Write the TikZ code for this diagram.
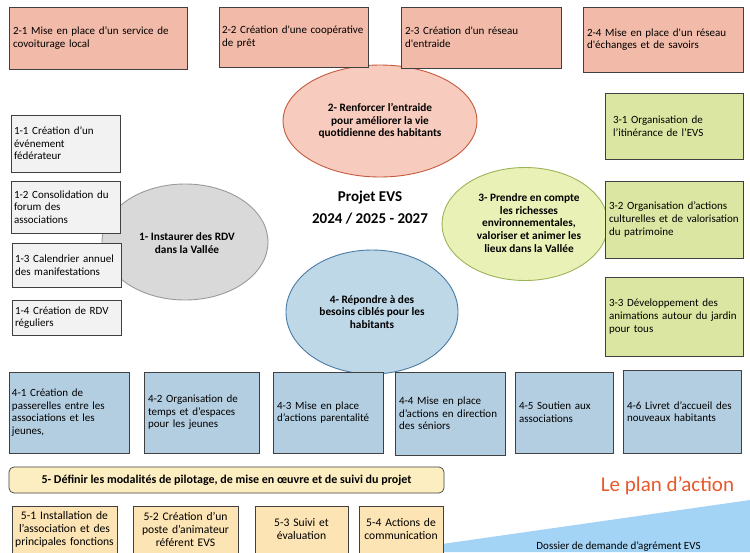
\documentclass[tikz,border=0pt]{standalone}
\usepackage{fontspec}
\setmainfont{Carlito}[Ligatures=TeXOff]
\usetikzlibrary{shapes.geometric}
\definecolor{salmonbox}{HTML}{F2BAA8}
\definecolor{salmonell}{HTML}{F7CBBD}
\definecolor{salmonline}{HTML}{C55A3C}
\definecolor{greybox}{HTML}{F2F2F2}
\definecolor{greyell}{HTML}{D9D9D9}
\definecolor{greyline}{HTML}{9A9A9A}
\definecolor{greenbox}{HTML}{DBE6A2}
\definecolor{greenell}{HTML}{EAF1B6}
\definecolor{greenline}{HTML}{9BB459}
\definecolor{bluebox}{HTML}{B4CEE1}
\definecolor{blueell}{HTML}{BFD8E8}
\definecolor{blueline}{HTML}{4A7CA6}
\definecolor{headfill}{HTML}{FDEEC2}
\definecolor{fivebox}{HTML}{FCE4B4}
\definecolor{tri}{HTML}{A3D3F5}
\definecolor{titleorange}{HTML}{E8592B}
\begin{document}
\begin{tikzpicture}[x=1pt,y=-1pt,
  txt/.style={font=\fontsize{11}{12.6}\selectfont},
  box/.style={txt, draw=black!75, line width=0.7pt, inner xsep=4pt, inner ysep=2pt, align=left, rectangle},
  ell/.style={ellipse, line width=0.9pt, inner sep=0pt},
  elltext/.style={align=center, inner sep=0pt, font=\fontsize{11.3}{12.7}\selectfont\bfseries},
  sbox/.style={box, fill=salmonbox},
  gbox/.style={box, fill=greybox},
  vbox/.style={box, fill=greenbox},
  bbox/.style={box, fill=bluebox},
  fbox/.style={box, fill=fivebox, align=center, inner xsep=1pt, font=\fontsize{11.6}{13}\selectfont},
]
\useasboundingbox (0,0) rectangle (750,552);
\clip (0,0) rectangle (750,552);
\fill[white] (0,0) rectangle (750,552);

% background triangle
\fill[tri] (386,552) -- (750,500) -- (750,552) -- cycle;
\node[txt, anchor=base] (dossier) at (618.5,549.5) {Dossier de demande d’agrément EVS};

% ellipses
\node[ell, draw=greyline, fill=greyell, minimum width=166pt, minimum height=116pt] (e1) at (185,242) {};
\node[elltext] (e1t) at (187,243) {1- Instaurer des RDV\\dans la Vallée};
\node[ell, draw=salmonline, fill=salmonell, minimum width=194pt, minimum height=112pt] (e2) at (380,121) {};
\node[elltext] (e2t) at (380,121) {2- Renforcer l’entraide\\pour améliorer la vie\\quotidienne des habitants};
\node[ell, draw=greenline, fill=greenell, minimum width=166pt, minimum height=113pt] (e3) at (525,224) {};
\node[elltext] (e3t) at (529,223) {3- Prendre en compte\\les richesses\\environnementales,\\valoriser et animer les\\lieux dans la Vallée};
\node[ell, draw=blueline, fill=blueell, minimum width=172pt, minimum height=124pt] (e4) at (372,312) {};
\node[elltext] (e4t) at (372,312) {4- Répondre à des\\besoins ciblés pour les\\habitants};

% title
\node[font=\fontsize{15}{22}\selectfont\bfseries, align=center] (title) at (370,208) {Projet EVS\\2024 / 2025 - 2027};

% row 2
\node[sbox, minimum width=178pt, minimum height=62pt, text width=170pt] (b21) at (98,38) {2-1 Mise en place d’un service de\\covoiturage local};
\node[sbox, minimum width=149pt, minimum height=60pt, text width=145pt, inner xsep=2pt] (b22) at (293.5,37) {\hspace*{1pt}2-2 Création d'une coopérative\\\hspace*{1pt}de prêt};
\node[sbox, minimum width=160pt, minimum height=61pt, text width=152pt] (b23) at (481,37.5) {2-3 Création d'un réseau\\d'entraide};
\node[sbox, minimum width=160pt, minimum height=65pt, text width=152pt] (b24) at (663,39.5) {2-4 Mise en place d'un réseau\\d'échanges et de savoirs};

% column 1
\node[gbox, minimum width=109pt, minimum height=57pt, text width=103pt, inner xsep=3pt] (b11) at (65.5,143.5) {1-1 Création d’un\\événement\\fédérateur};
\node[gbox, minimum width=109pt, minimum height=52pt, text width=103pt, inner xsep=3pt] (b12) at (65.5,207) {1-2 Consolidation du\\forum des\\associations};
\node[gbox, minimum width=109pt, minimum height=44pt, text width=103pt, inner xsep=3pt] (b13) at (66.5,265) {1-3 Calendrier annuel\\des manifestations};
\node[gbox, minimum width=109pt, minimum height=35pt, text width=103pt, inner xsep=3pt] (b14) at (66.5,317.5) {1-4 Création de RDV\\réguliers};

% column 3
\node[vbox, minimum width=138pt, minimum height=66pt, text width=122pt, inner xsep=8pt] (b31) at (674,126) {3-1 Organisation de\\l’itinérance de l’EVS};
\node[vbox, minimum width=138pt, minimum height=77pt, text width=130pt] (b32) at (674,219.5) {3-2 Organisation d’actions\\culturelles et de valorisation\\du patrimoine};
\node[vbox, minimum width=138pt, minimum height=79pt, text width=130pt] (b33) at (674,316.5) {3-3 Développement des\\animations autour du jardin\\pour tous};

% row 4
\node[bbox, minimum width=120pt, minimum height=81pt, text width=114pt, inner xsep=3pt] (b41) at (69,412.5) {4-1 Création de\\passerelles entre les\\associations et les\\jeunes,};
\node[bbox, minimum width=115pt, minimum height=81pt, text width=107pt] (b42) at (201.5,412.5) {4-2 Organisation de\\temps et d’espaces\\pour les jeunes};
\node[bbox, minimum width=110pt, minimum height=81pt, text width=102pt] (b43) at (328,412.5) {4-3 Mise en place\\d’actions parentalité};
\node[bbox, minimum width=110pt, minimum height=83pt, text width=102pt] (b44) at (450,413.5) {4-4 Mise en place\\d’actions en direction\\des séniors};
\node[bbox, minimum width=98pt, minimum height=81pt, text width=90pt] (b45) at (564,412.5) {4-5 Soutien aux\\associations};
\node[bbox, minimum width=118pt, minimum height=83pt, text width=110pt] (b46) at (682,411.5) {4-6 Livret d’accueil des\\nouveaux habitants};

% row 5
\node[box, fill=headfill, rounded corners=5pt, minimum width=435pt, minimum height=26pt, align=center, font=\fontsize{12}{14}\selectfont\bfseries] (h5) at (226.5,480) {5- Définir les modalités de pilotage, de mise en œuvre et de suivi du projet};
\node[fbox, minimum width=105pt, minimum height=47pt, text width=103pt] (b51) at (64.5,529.5) {5-1 Installation de\\l’association et des\\principales fonctions};
\node[fbox, minimum width=105pt, minimum height=47pt, text width=103pt] (b52) at (185.5,529.5) {5-2 Création d’un\\poste d’animateur\\référent EVS};
\node[fbox, minimum width=93pt, minimum height=47pt, text width=91pt] (b53) at (301.5,529.5) {5-3 Suivi et\\évaluation};
\node[fbox, minimum width=84pt, minimum height=47pt, text width=82pt] (b54) at (401,529.5) {5-4 Actions de\\communication};

\node[font=\fontsize{21}{24}\selectfont, text=titleorange, anchor=base] (plan) at (667.5,491) {Le plan d’action};
\end{tikzpicture}
\end{document}
